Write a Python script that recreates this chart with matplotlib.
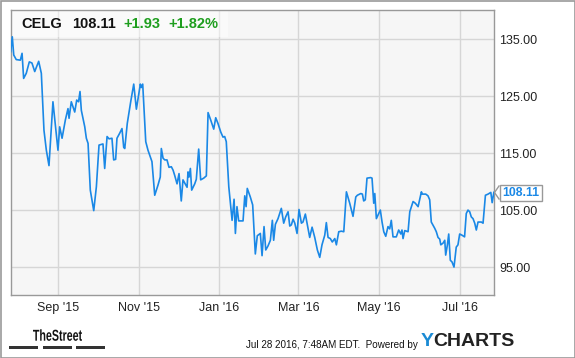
import matplotlib
matplotlib.use("Agg")
import matplotlib.pyplot as plt
import matplotlib.dates as mdates
from matplotlib.lines import Line2D
from matplotlib.patches import Rectangle, PathPatch
from matplotlib.textpath import TextPath
from matplotlib.font_manager import FontProperties
from matplotlib.transforms import Affine2D, IdentityTransform
import numpy as np
import pandas as pd

plt.rcParams['font.family'] = ['Liberation Sans', 'DejaVu Sans']

# CELG daily close (days since 2015-07-27)
start = pd.Timestamp('2015-07-27')
days = [0.0, 1.2, 2.3, 4.2, 7.3, 8.6, 9.8, 11.8, 14.1, 16.1, 18.2, 21.2, 23.2, 25.2, 27.0, 29.0,
        32.0, 35.8, 37.1, 38.9, 41.4, 43.4, 44.2, 45.9, 48.5, 50.0, 51.4, 52.5, 53.5, 56.1, 57.3,
        58.6, 60.3, 62.9, 64.9, 66.9, 69.9, 71.2, 73.0, 74.5, 76.7, 78.0, 79.5, 80.5, 82.6, 84.3,
        85.6, 86.4, 88.3, 90.9, 93.2, 95.2, 98.2, 98.9, 100.0, 102.3, 104.0, 106.1, 107.0, 109.1,
        111.6, 113.3, 114.1, 115.4, 116.7, 118.4, 119.9, 121.7, 123.0, 124.2, 126.0, 127.5, 129.2,
        130.5, 132.6, 133.6, 134.3, 135.1, 136.1, 137.1, 139.4, 140.6, 142.4, 143.9, 146.2, 148.2,
        149.5, 151.5, 153.8, 155.3, 157.0, 159.1, 160.8, 162.1, 163.3, 165.2, 167.7, 169.2, 170.2,
        171.4, 172.7, 176.0, 177.3, 178.3, 179.2, 181.5, 183.3, 185.3, 186.8, 189.1, 190.4, 191.9,
        193.2, 194.9, 196.7, 198.2, 199.2, 200.5, 202.5, 205.0, 206.8, 208.3, 210.1, 211.4, 212.6,
        213.9, 215.2, 216.9, 218.4, 220.2, 221.4, 223.2, 224.7, 226.5, 228.3, 230.3, 232.3, 234.1,
        235.8, 237.9, 239.1, 240.4, 242.1, 243.6, 245.5, 246.7, 248.5, 250.5, 252.3, 254.3, 256.8,
        259.3, 261.4, 262.6, 265.2, 266.4, 267.4, 268.6, 269.9, 272.7, 273.7, 275.0, 275.8, 277.0,
        278.8, 280.0, 281.3, 282.6, 284.1, 285.8, 287.1, 288.3, 289.6, 292.1, 293.9, 295.5, 296.4,
        297.2, 298.5, 301.0, 302.3, 304.8, 306.5, 308.6, 311.1, 311.8, 314.4, 316.1, 317.4, 318.6,
        321.2, 322.4, 323.7, 325.0, 325.8, 327.5, 328.8, 329.5, 330.8, 331.8, 333.0, 334.3, 335.8,
        337.5, 338.8, 340.1, 341.8, 343.8, 345.1, 346.4, 347.7, 348.9, 350.2, 351.5, 352.7, 354.0,
        356.5, 357.8, 359.6, 361.6, 363.7, 364.7, 366.0]
price = [132.8, 135.4, 132.2, 131.4, 131.3, 132.5, 128.1, 129.0, 131.0, 130.8, 129.3, 131.1, 129.0,
         119.0, 115.5, 112.8, 124.0, 115.5, 119.6, 117.6, 120.8, 122.8, 121.1, 124.0, 122.2, 124.3,
         124.0, 125.8, 122.5, 119.6, 117.6, 116.7, 108.5, 104.9, 109.1, 116.4, 116.6, 112.3, 117.9,
         117.5, 117.6, 113.8, 113.9, 117.6, 118.5, 119.3, 116.0, 115.8, 120.2, 124.0, 127.1, 122.7,
         127.1, 126.5, 127.1, 117.0, 115.5, 114.1, 113.5, 107.6, 109.4, 110.8, 115.8, 114.1, 113.8,
         113.8, 112.5, 112.6, 112.0, 111.1, 109.6, 111.4, 106.6, 110.3, 109.4, 109.0, 111.7, 110.8,
         112.3, 108.5, 109.6, 110.4, 115.7, 110.3, 110.6, 111.0, 122.1, 120.8, 119.2, 121.2, 120.2,
         118.7, 117.8, 117.9, 117.0, 109.1, 103.2, 106.9, 100.9, 105.6, 103.1, 103.1, 107.5, 105.6,
         108.8, 107.3, 105.9, 97.3, 100.5, 100.9, 97.0, 102.1, 98.0, 98.7, 99.7, 103.2, 99.7, 102.5,
         103.5, 105.3, 102.7, 103.8, 104.7, 102.2, 102.4, 103.4, 102.7, 100.9, 105.1, 102.7, 102.9,
         104.3, 102.4, 100.2, 102.0, 100.2, 98.0, 96.7, 98.9, 100.6, 102.8, 100.2, 100.0, 99.4,
         100.0, 98.9, 101.2, 101.3, 101.2, 108.2, 106.2, 103.9, 107.3, 107.6, 107.9, 107.8, 106.6,
         106.8, 110.6, 110.7, 110.6, 106.2, 107.9, 103.5, 104.4, 105.0, 102.9, 101.2, 100.4, 102.1,
         101.7, 103.2, 100.3, 100.3, 101.5, 100.8, 101.5, 100.0, 101.4, 101.2, 104.7, 106.5, 106.2,
         105.6, 108.2, 107.8, 107.8, 107.5, 106.8, 102.9, 101.8, 101.2, 100.2, 99.9, 98.9, 99.2,
         99.7, 97.1, 98.9, 100.8, 96.2, 95.9, 95.0, 98.5, 98.9, 100.8, 100.6, 100.3, 104.4, 105.0,
         104.7, 103.8, 103.5, 102.7, 101.5, 102.9, 102.9, 102.7, 107.6, 107.8, 108.1, 106.3, 108.11]
yticks = [95, 105, 115, 125, 135]

dates = start + pd.to_timedelta(days, unit='D')

W, H = 575, 358
fig = plt.figure(figsize=(W / 100, H / 100), dpi=100)
ax = fig.add_axes([10.7 / W, 1 - 295 / H, (494 - 10.7) / W, (295 - 10) / H])
ax.set_facecolor('#f6f6f6')

ax.plot(dates, price, color='#1a88e6', lw=1.2, zorder=3)

ax.set_xlim(start, start + pd.Timedelta(days=366.1))
ax.set_ylim(90.1, 140.1)
ax.yaxis.tick_right()
ax.set_yticks(yticks)
ax.set_yticklabels(['%.2f' % v for v in yticks])
ax.xaxis.set_major_locator(mdates.MonthLocator(bymonth=[1, 3, 5, 7, 9, 11]))
ax.xaxis.set_major_formatter(mdates.DateFormatter("%b '%y"))
ax.tick_params(axis='both', length=0, labelsize=9, colors='#222222')
ax.tick_params(axis='y', pad=4)
ax.tick_params(axis='x', pad=5)
ax.grid(True, color='#d6d6d6', lw=1)
ax.set_axisbelow(True)
for s in ax.spines.values():
    s.set_color('#999999')
    s.set_linewidth(1)

# header band
ax.add_patch(Rectangle((0, 0.905), 0.45, 0.095, transform=ax.transAxes,
                       facecolor='white', alpha=0.45, lw=0, zorder=2))
ty = 1 - 24 / H
fig.text(21.7 / W, ty, 'CELG', fontsize=10.5, fontweight='bold', va='center', color='#111111')
fig.text(71.7 / W, ty, '108.11', fontsize=10.5, fontweight='bold', va='center', color='#111111')
fig.text(123 / W, ty, '+1.93', fontsize=10.5, fontweight='bold', va='center', color='#1e9e1e')
fig.text(168 / W, ty, '+1.82%', fontsize=10.5, fontweight='bold', va='center', color='#1e9e1e')

# last value label
fig.text(502 / W, 1 - 193 / H, '108.11', fontsize=8.8, fontweight='bold', color='#1a88e6',
         va='center', ha='left',
         bbox=dict(boxstyle='square,pad=0.2', fc='white', ec='#999999', lw=1))
fig.add_artist(Line2D([499 / W, 494.5 / W, 499 / W], [1 - 186 / H, 1 - 192.5 / H, 1 - 199 / H],
                      color='#999999', lw=1))

# footer: condensed "TheStreet" logo text
tp = TextPath((0, 0), 'TheStreet', size=15.8,
              prop=FontProperties(family='Liberation Sans', weight='bold'))
bb = tp.get_extents()
sx = 49.0 / bb.width
logo = PathPatch(tp, transform=Affine2D().translate(-bb.x0, 0).scale(sx, 1.0).translate(33, H - 340.7)
                 + IdentityTransform(), facecolor='#111111', lw=0)
fig.add_artist(logo)
for x0, x1 in [(9, 38), (43, 72), (76, 105)]:
    fig.add_artist(Rectangle((x0 / W, 1 - 349 / H), (x1 - x0) / W, 3.5 / H,
                             transform=fig.transFigure, facecolor='#333333', lw=0))
fig.text(418 / W, 1 - 345 / H, 'Jul 28 2016, 7:48AM EDT.  Powered by', fontsize=7.1,
         ha='right', va='center', color='#111111')
fig.text(421 / W, 1 - 342 / H, 'Y', fontsize=14, fontweight='bold', va='center', color='#1a8ad4')
fig.text(433 / W, 1 - 342 / H, 'CHARTS', fontsize=14, fontweight='bold', va='center', color='#222222')

# outer border
fig.add_artist(Rectangle((0.5 / W, 0.5 / H), (W - 1) / W, (H - 1) / H, transform=fig.transFigure,
                         fill=False, ec='#999999', lw=1.2))

fig.savefig('out.png', dpi=100, facecolor='white')
